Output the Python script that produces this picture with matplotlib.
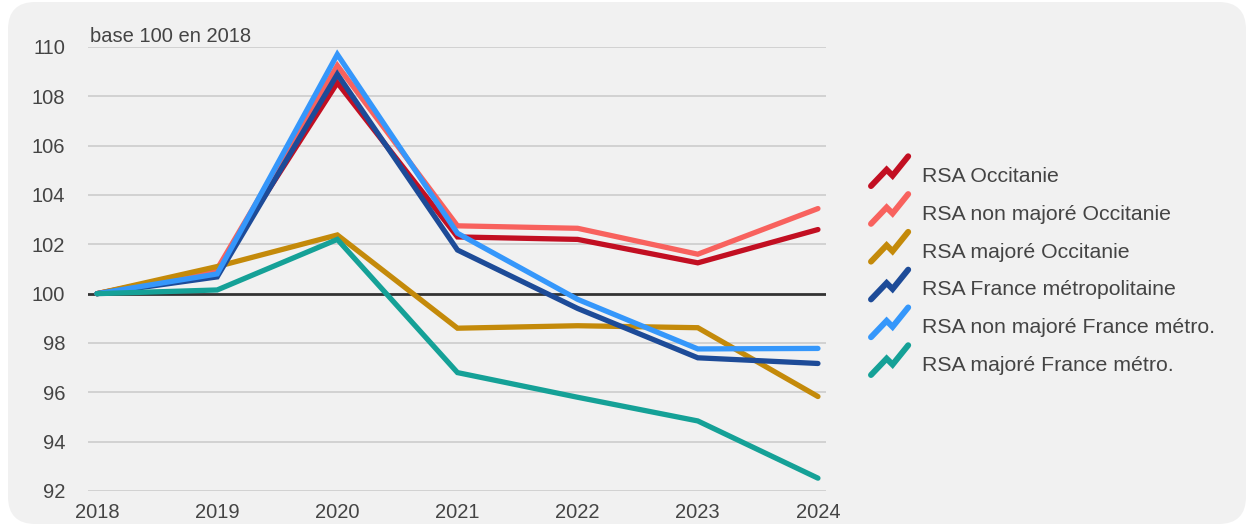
import matplotlib
matplotlib.use("Agg")
import matplotlib.pyplot as plt
from matplotlib.patches import FancyBboxPatch
from matplotlib.lines import Line2D
from matplotlib.legend_handler import HandlerBase

plt.rcParams['font.family'] = ['Liberation Sans', 'DejaVu Sans']

years = [2018, 2019, 2020, 2021, 2022, 2023, 2024]

rsa_occitanie = [100, 100.96, 108.55, 102.3, 102.2, 101.25, 102.6]
rsa_non_majore_occitanie = [100, 101.0, 109.25, 102.75, 102.65, 101.6, 103.45]
rsa_majore_occitanie = [100, 101.1, 102.38, 98.6, 98.7, 98.62, 95.83]
rsa_france = [100, 100.68, 108.9, 101.77, 99.4, 97.4, 97.17]
rsa_non_majore_france = [100, 100.8, 109.7, 102.45, 99.77, 97.76, 97.78]
rsa_majore_france = [100, 100.15, 102.2, 96.8, 95.8, 94.84, 92.52]

series_labels = [
    "RSA Occitanie",
    "RSA non majoré Occitanie",
    "RSA majoré Occitanie",
    "RSA France métropolitaine",
    "RSA non majoré France métro.",
    "RSA majoré France métro.",
]
series_values = [
    rsa_occitanie,
    rsa_non_majore_occitanie,
    rsa_majore_occitanie,
    rsa_france,
    rsa_non_majore_france,
    rsa_majore_france,
]
series_colors = ["#c20f22", "#f8625e", "#c48a0a", "#1d4b98", "#3597fb", "#15a197"]

y_ticks = [92, 94, 96, 98, 100, 102, 104, 106, 108, 110]

W, H = 1246, 529
fig = plt.figure(figsize=(W / 100, H / 100), dpi=100)
fig.patch.set_facecolor("white")

# rounded grey panel behind the chart
panel = FancyBboxPatch((8 / W, 5 / H), (W - 8) / W, (H - 7) / H,
                       boxstyle="round,pad=0,rounding_size=0.022",
                       transform=fig.transFigure, facecolor="#f1f1f1",
                       edgecolor="none", zorder=-5, mutation_aspect=W / H)
fig.patches.append(panel)

ax = fig.add_axes([88 / W, 1 - 491 / H, (826 - 88) / W, (491 - 47) / H])
ax.set_facecolor("none")
ax.set_zorder(2)

for v in y_ticks:
    if v == 100:
        ax.axhline(v, color="#333333", lw=2.0, zorder=1)
    else:
        ax.axhline(v, color="#cfcfcf", lw=1.3, zorder=1)

draw_order = [2, 5, 4, 3, 1, 0]
for i in draw_order:
    ax.plot(years, series_values[i], color=series_colors[i], lw=3.8,
            solid_joinstyle="miter", solid_capstyle="round", zorder=3 + i * 0.1)

ax.set_xlim(2017.925, 2024.067)
ax.set_ylim(92, 110)
ax.set_yticks(y_ticks)
ax.set_xticks(years)
ax.set_xticklabels([str(y) for y in years])
ax.tick_params(axis="both", length=0, labelsize=14.5, colors="#444444")
ax.tick_params(axis="y", pad=16.5)
ax.tick_params(axis="x", pad=9)
for s in ax.spines.values():
    s.set_visible(False)

fig.text(90 / W, 1 - 37 / H, "base 100 en 2018",
         fontsize=14.5, color="#444444", va="center", ha="left", zorder=3)


class ZigzagHandler(HandlerBase):
    """Legend key drawn as a small rising zigzag."""

    def create_artists(self, legend, orig_handle, xdescent, ydescent,
                       width, height, fontsize, trans):
        xs = [0.0, 0.42, 0.58, 1.0]
        ys = [0.0, 0.55, 0.35, 1.0]
        w = width
        h = fontsize * 1.4
        y0 = -ydescent + height / 2 - h / 2 + 2.5
        line = Line2D([-xdescent + x * w for x in xs], [y0 + y * h for y in ys],
                      color=orig_handle.get_color(), lw=4.3,
                      solid_capstyle="round", solid_joinstyle="miter",
                      transform=trans)
        return [line]


handles = [Line2D([], [], color=c) for c in series_colors]
leg = fig.legend(handles, series_labels, loc="center left",
                 bbox_to_anchor=(871 / W, 1 - 270 / H), frameon=False,
                 borderpad=0, borderaxespad=0,
                 handler_map={Line2D: ZigzagHandler()},
                 handlelength=1.75, handleheight=1.0, handletextpad=0.65,
                 labelspacing=0.8, fontsize=15.3)
leg.set_zorder(3)
for t in leg.get_texts():
    t.set_color("#444444")

fig.savefig("out.png", dpi=100, facecolor="white")
